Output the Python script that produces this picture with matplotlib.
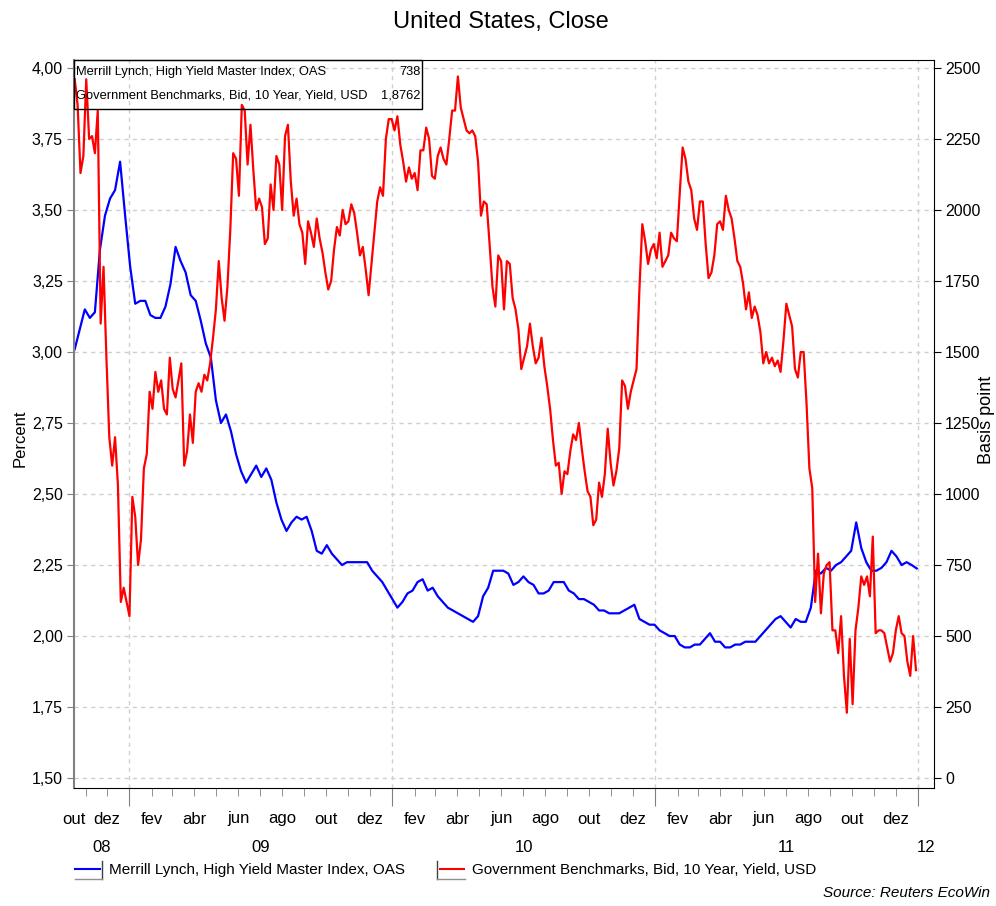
import numpy as np
import pandas as pd
import matplotlib
matplotlib.use("Agg")
import matplotlib.pyplot as plt
import matplotlib.dates as mdates
from matplotlib.patches import Rectangle
from matplotlib.lines import Line2D
from matplotlib.ticker import FuncFormatter
from matplotlib.transforms import blended_transform_factory

plt.rcParams['font.family'] = ['Liberation Sans', 'DejaVu Sans']

# Government Benchmarks, Bid, 10 Year, Yield, USD (percent), every 4 days from 2008-10-17
yield_10y = [
    3.96, 3.87, 3.63, 3.69, 3.96, 3.75, 3.76, 3.70, 3.85, 3.10,
    3.30, 2.98, 2.70, 2.60, 2.70, 2.53, 2.12, 2.17, 2.12, 2.07,
    2.49, 2.42, 2.25, 2.34, 2.59, 2.64, 2.86, 2.80, 2.93, 2.86,
    2.90, 2.80, 2.78, 2.98, 2.87, 2.84, 2.90, 2.96, 2.60, 2.65,
    2.78, 2.68, 2.86, 2.89, 2.86, 2.92, 2.90, 2.96, 3.05, 3.15,
    3.32, 3.19, 3.11, 3.23, 3.43, 3.70, 3.68, 3.55, 3.87, 3.85,
    3.66, 3.80, 3.64, 3.50, 3.54, 3.51, 3.38, 3.40, 3.59, 3.50,
    3.69, 3.66, 3.50, 3.76, 3.80,
    3.60, 3.48, 3.54, 3.45, 3.42, 3.31, 3.46, 3.42, 3.37, 3.47,
    3.40, 3.35, 3.28, 3.22, 3.25, 3.36, 3.44, 3.41, 3.50, 3.45,
    3.46, 3.52, 3.49, 3.42, 3.34, 3.37, 3.29, 3.20, 3.31, 3.42,
    3.53, 3.58, 3.55, 3.75, 3.82, 3.82, 3.78, 3.83, 3.73, 3.67,
    3.60, 3.65, 3.61, 3.63, 3.57, 3.71, 3.71, 3.79, 3.75, 3.62,
    3.61, 3.69, 3.72, 3.68, 3.66, 3.75, 3.85, 3.85, 3.97, 3.86,
    3.82, 3.78, 3.77, 3.78, 3.76, 3.67, 3.48, 3.53, 3.52, 3.38,
    3.23, 3.16, 3.34, 3.32, 3.15,
    3.32, 3.31, 3.19, 3.15, 3.08, 2.94, 2.98, 3.02, 3.10, 3.02,
    2.96, 2.98, 3.05, 2.95, 2.88, 2.80, 2.69, 2.60, 2.61, 2.50,
    2.58, 2.57, 2.65, 2.71, 2.69, 2.75, 2.66, 2.58, 2.51, 2.49,
    2.39, 2.41, 2.54, 2.49, 2.57, 2.73, 2.61, 2.53, 2.58, 2.66,
    2.90, 2.88, 2.80, 2.86, 2.90, 2.94, 3.22, 3.45, 3.39, 3.31,
    3.36, 3.38, 3.33, 3.42, 3.30, 3.32, 3.34, 3.42, 3.40, 3.39,
    3.56, 3.72, 3.68, 3.60, 3.57, 3.47, 3.43, 3.53, 3.53, 3.38,
    3.26, 3.28, 3.34, 3.45, 3.46,
    3.43, 3.55, 3.50, 3.47, 3.40, 3.32, 3.30, 3.24, 3.15, 3.21,
    3.12, 3.16, 3.13, 3.07, 2.96, 3.00, 2.96, 2.98, 2.95, 2.97,
    2.93, 3.04, 3.17, 3.13, 3.09, 2.94, 2.91, 3.00, 3.00, 2.82,
    2.59, 2.52, 2.12, 2.29, 2.08, 2.22, 2.25, 2.26, 2.02, 2.02,
    1.94, 2.07, 1.86, 1.73, 1.99, 1.76, 2.02, 2.10, 2.21, 2.18,
    2.21, 2.14, 2.35, 2.01, 2.02, 2.02, 2.01, 1.96, 1.91, 1.94,
    2.02, 2.07, 2.01, 2.00, 1.91, 1.86, 2.00, 1.88,
]

# Merrill Lynch, High Yield Master Index, OAS (basis points), weekly from 2008-10-17
hy_oas = [
    1510, 1580, 1650, 1620, 1640, 1860, 1980, 2040, 2070, 2170,
    1980, 1800, 1670, 1680, 1680, 1630, 1620, 1620, 1660, 1740,
    1870, 1820, 1780, 1700, 1680, 1610, 1530, 1480, 1330, 1250,
    1280, 1220, 1140, 1080, 1040, 1070, 1100, 1060, 1090, 1050,
    970, 910, 870,
    900, 920, 910, 920, 870, 800, 790, 820, 790, 770,
    750, 760, 760, 760, 760, 760, 730, 710, 690, 660,
    630, 600, 620, 650, 660, 690, 700, 660, 670, 640,
    620, 600, 590, 580, 570, 560, 550, 570, 640, 670,
    730, 730, 730,
    720, 680, 690, 710, 690, 680, 650, 650, 660, 690,
    690, 690, 660, 650, 630, 630, 620, 610, 590, 590,
    580, 580, 580, 590, 600, 610, 560, 550, 540, 540,
    520, 510, 500, 500, 470, 460, 460, 470, 470, 490,
    510, 480, 480,
    460, 460, 470, 470, 480, 480, 480, 500, 520, 540,
    560, 570, 550, 530, 560, 550, 550, 600, 730, 720,
    740, 730, 750, 760, 780, 800, 900, 810, 760, 730,
    730, 740, 760, 800, 780, 750, 760, 750, 738,
]

month_names = ['jan', 'fev', 'mar', 'abr', 'mai', 'jun',
               'jul', 'ago', 'set', 'out', 'nov', 'dez']
label_oas = "Merrill Lynch, High Yield Master Index, OAS"
label_yield = "Government Benchmarks, Bid, 10 Year, Yield, USD"
last_oas = "738"
last_yield = "1,8762"

yield_dates = pd.date_range('2008-10-17', periods=len(yield_10y), freq='4D')
oas_dates = pd.date_range('2008-10-17', periods=len(hy_oas), freq='7D')

W, H = 996, 906
fig = plt.figure(figsize=(W / 100, H / 100), dpi=100, facecolor='white')
ax_l, ax_r, ax_t, ax_b = 74, 934, 60, 788
ax = fig.add_axes([ax_l / W, 1 - ax_b / H, (ax_r - ax_l) / W, (ax_b - ax_t) / H])
ax2 = ax.twinx()
ax.set_zorder(ax2.get_zorder() + 1)
ax.patch.set_visible(False)

xmin, xmax = pd.Timestamp('2008-10-16'), pd.Timestamp('2012-01-23')
ax.set_xlim(xmin, xmax)
ax.set_ylim(1.465, 4.028)
ax2.set_ylim((1.465 - 1.5) * 1000, (4.028 - 1.5) * 1000)

# grid (on the lower axes so the lines sit on top)
grid_kw = dict(color='#cfcfcf', lw=1.0, ls=(0, (3, 3)), zorder=0)
for v in range(0, 2501, 250):
    ax2.axhline(v, **grid_kw)
for yr in range(2009, 2013):
    ax2.axvline(pd.Timestamp(f'{yr}-01-01'), **grid_kw)

ax2.plot(oas_dates, hy_oas, color='#0000ff', lw=1.6, zorder=3)
ax.plot(yield_dates, yield_10y, color='#ff0000', lw=1.6, zorder=3)

# y axes
ax.set_yticks(np.arange(1.5, 4.01, 0.25))
ax.yaxis.set_major_formatter(FuncFormatter(lambda v, _: f'{v:.2f}'.replace('.', ',')))
ax2.set_yticks(range(0, 2501, 250))
ax.tick_params(axis='y', direction='out', length=5, color='#808080', labelsize=11.5, pad=3)
ax2.tick_params(axis='y', direction='out', length=5, color='black', labelsize=11.5, pad=3)
ax.set_ylabel('Percent', fontsize=12)
ax.yaxis.set_label_coords((28 - ax_l) / (ax_r - ax_l), 0.48)
ax2.set_ylabel('Basis point', fontsize=13)
ax2.yaxis.set_label_coords((978 - ax_l) / (ax_r - ax_l), 0.505)

# x axis: month minor ticks, year major ticks, manual labels
ax.xaxis.set_major_locator(mdates.YearLocator())
ax.xaxis.set_minor_locator(mdates.MonthLocator())
ax.tick_params(axis='x', which='major', length=13, color='#808080', labelbottom=False)
ax.tick_params(axis='x', which='minor', length=6, color='#808080', labelbottom=False)

tr = blended_transform_factory(ax.transData, ax.transAxes)
month_y = (ax_b - 819) / (ax_b - ax_t)
year_y = (ax_b - 848) / (ax_b - ax_t)
months = pd.date_range('2008-10-01', '2011-12-01', freq='MS')
for m in months:
    if m.month % 2 == 0:
        xpos = max(m, xmin)
        ax.text(xpos, month_y, month_names[m.month - 1], transform=tr,
                ha='center', va='center', fontsize=12)
for yr in range(2008, 2013):
    s = max(pd.Timestamp(f'{yr}-01-01'), xmin)
    e = min(pd.Timestamp(f'{yr + 1}-01-01'), xmax)
    ax.text(s + (e - s) / 2, year_y, f'{yr % 100:02d}', transform=tr,
            ha='center', va='center', fontsize=12)

# spines
for side in ['left', 'top', 'bottom']:
    ax2.spines[side].set_visible(False)
ax.spines['right'].set_visible(False)
ax.spines['left'].set_color('#808080')
ax.spines['left'].set_linewidth(1.5)
ax.spines['top'].set_color('black')
ax.spines['bottom'].set_color('black')
ax2.spines['right'].set_color('black')

# top-left value box
box_w = (422 - ax_l) / (ax_r - ax_l)
box_b = (ax_b - 109) / (ax_b - ax_t)
ax.add_patch(Rectangle((0, box_b), box_w, 1 - box_b, transform=ax.transAxes,
                       fill=False, edgecolor='black', lw=1.0, zorder=5, clip_on=False))
for row, (lab, val) in enumerate([(label_oas, last_oas), (label_yield, last_yield)]):
    yy = (ax_b - (72 + 23 * row)) / (ax_b - ax_t)
    ax.text(0.002, yy, lab, transform=ax.transAxes, ha='left', va='center',
            fontsize=9.3, zorder=6)
    ax.text(box_w - 0.002, yy, val, transform=ax.transAxes, ha='right', va='center',
            fontsize=9.3, zorder=6)

# title
fig.text(501 / W, 1 - 22 / H, 'United States, Close', ha='center', va='center', fontsize=17)


def fpx(xs, ys):
    return [x / W for x in xs], [1 - y / H for y in ys]


# bottom legend
fig.add_artist(Line2D(*fpx([75, 100], [869, 869]), color='#0000ff', lw=1.5))
fig.add_artist(Line2D(*fpx([102, 102], [861, 879]), color='#404040', lw=1.0))
fig.add_artist(Line2D(*fpx([75, 102], [879, 879]), color='#909090', lw=1.0))
fig.text(109 / W, 1 - 870 / H, label_oas, ha='left', va='center', fontsize=11)

fig.add_artist(Line2D(*fpx([437, 437], [861, 879]), color='#404040', lw=1.0))
fig.add_artist(Line2D(*fpx([437, 465], [879, 879]), color='#909090', lw=1.0))
fig.add_artist(Line2D(*fpx([440, 464], [869, 869]), color='#ff0000', lw=1.5))
fig.text(472 / W, 1 - 870 / H, label_yield, ha='left', va='center', fontsize=11)

fig.text(990 / W, 1 - 893 / H, 'Source: Reuters EcoWin', ha='right', va='center',
         fontsize=11, style='italic')

fig.savefig('out.png', dpi=100, facecolor='white')
